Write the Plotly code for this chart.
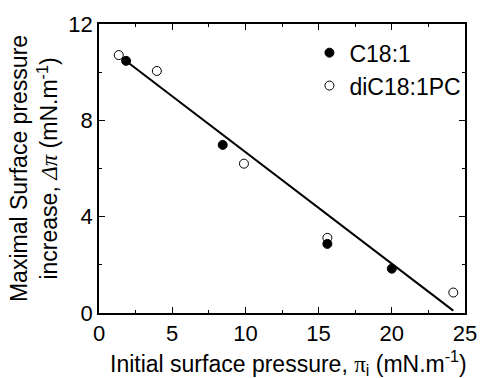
import plotly.graph_objects as go

# Data
c18_x = [1.85, 8.45, 15.6, 20.0]
c18_y = [10.47, 6.98, 2.87, 1.84]
pc_x = [1.35, 3.95, 9.9, 15.6, 24.2]
pc_y = [10.71, 10.05, 6.2, 3.12, 0.85]
fit_x = [1.6, 24.2]
fit_y = [10.58, 0.1]

x_ticks = [0, 5, 10, 15, 20, 25]
y_ticks = [0, 4, 8, 12]

FONT = "Liberation Sans, Arial, sans-serif"
SYM = "Liberation Serif, Times New Roman, serif"

fig = go.Figure()
fig.add_trace(go.Scatter(x=fit_x, y=fit_y, mode="lines",
                         line=dict(color="black", width=2), showlegend=False))
fig.add_trace(go.Scatter(x=c18_x, y=c18_y, mode="markers", name="C18:1",
                         marker=dict(symbol="circle", size=9, color="black",
                                     line=dict(color="black", width=1))))
fig.add_trace(go.Scatter(x=pc_x, y=pc_y, mode="markers", name="diC18:1PC",
                         marker=dict(symbol="circle-open", size=9, color="black",
                                     line=dict(color="black", width=1))))

axis_common = dict(
    showline=True, linecolor="black", linewidth=1.5, mirror="ticks",
    ticks="inside", ticklen=6, tickwidth=1.2, tickcolor="black",
    showgrid=False, zeroline=False,
    tickfont=dict(family=FONT, size=22, color="black"),
)

fig.update_xaxes(range=[0, 25], tickvals=x_ticks, ticktext=[str(v) for v in x_ticks],
                 minor=dict(ticks="inside", ticklen=3, tickwidth=1.2, tickcolor="black", dtick=2.5, tick0=0, showgrid=False),
                 **axis_common)
fig.update_yaxes(range=[0, 12], tickvals=y_ticks, ticktext=[str(v) for v in y_ticks],
                 minor=dict(ticks="inside", ticklen=3, tickwidth=1.2, tickcolor="black", dtick=2, tick0=0, showgrid=False),
                 title=dict(text="Maximal Surface pressure<br>increase, <span style='font-family:" + SYM + "'><i>Δπ</i></span> (mN.m<sup>-1</sup>)",
                            font=dict(family=FONT, size=23, color="black"), standoff=4),
                 **axis_common)

fig.add_annotation(
    text="Initial surface pressure, <span style='font-family:" + SYM + "'>π</span><sub>i</sub> (mN.m<sup>-1</sup>)",
    xref="paper", yref="paper", x=0.518, y=-0.174, xanchor="center", yanchor="middle",
    showarrow=False, font=dict(family=FONT, size=23, color="black"),
)

fig.update_layout(
    width=489, height=378,
    margin=dict(l=99, r=16, t=22, b=65),
    plot_bgcolor="white", paper_bgcolor="white",
    font=dict(family=FONT, color="black"),
    legend=dict(x=0.575, y=0.975, xanchor="left", yanchor="top",
                font=dict(family=FONT, size=23, color="black"),
                bgcolor="rgba(0,0,0,0)", itemwidth=30, tracegroupgap=0),
)

fig.write_html("out.html")
